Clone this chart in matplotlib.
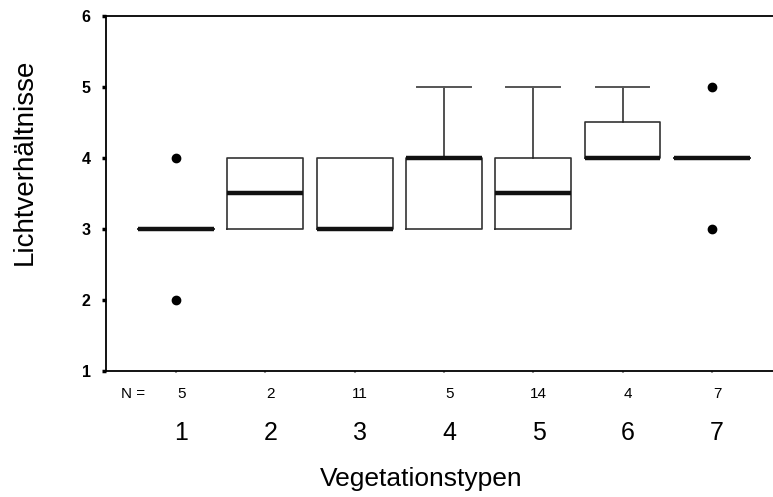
import numpy as np
import matplotlib.pyplot as plt

plt.rcParams['font.family'] = ['Liberation Sans', 'DejaVu Sans']

# Vegetationstypen 1..7
types = ["1", "2", "3", "4", "5", "6", "7"]
n_vals = [5, 2, 11, 5, 14, 4, 7]
q1 = [3, 3, 3, 3, 3, 4, 4]
med = [3, 3.5, 3, 4, 3.5, 4, 4]
q3 = [3, 4, 4, 4, 4, 4.5, 4]
whislo = [3, 3, 3, 3, 3, 4, 4]
whishi = [3, 4, 4, 5, 5, 5, 4]
fliers = [[4, 2], [], [], [], [], [], [5, 3]]

stats = []
for i in range(len(types)):
    stats.append(dict(med=med[i], q1=q1[i], q3=q3[i], whislo=whislo[i],
                      whishi=whishi[i], fliers=fliers[i]))

fig = plt.figure(figsize=(7.73, 4.97), dpi=100)
ax = fig.add_axes([0.137, 0.2535, 0.863, 0.7145])

pos = np.arange(1, len(types) + 1)
ax.bxp(stats, positions=pos, widths=0.85, showcaps=True,
       boxprops=dict(color='#333333', linewidth=1.2),
       medianprops=dict(color='#111111', linewidth=3.2, solid_capstyle='butt'),
       whiskerprops=dict(color='#222222', linewidth=1.1),
       capprops=dict(color='#555555', linewidth=1.4),
       capwidths=0.6,
       flierprops=dict(marker='o', markerfacecolor='black', markeredgecolor='black',
                       markersize=6))

ax.set_xlim(1 - 70 / 89, 7 + 61 / 89)
ax.set_ylim(1, 6)
ax.set_yticks([1, 2, 3, 4, 5, 6])
ax.tick_params(axis='y', direction='out', length=3, width=2.5, pad=8,
               labelsize=11.5)
for lab in ax.get_yticklabels():
    lab.set_fontweight('bold')

ax.set_xticks(pos)
ax.set_xticklabels([])
ax.tick_params(axis='x', direction='out', length=1.5, width=1.5, color='#999999')

for s in ['left', 'top', 'bottom']:
    ax.spines[s].set_linewidth(1.3)
ax.spines['right'].set_visible(False)

tr = ax.get_xaxis_transform()
for p, n, t in zip(pos, n_vals, types):
    ax.text(p + 0.06, -0.076, str(n), transform=tr, ha='center', va='baseline',
            fontsize=11)
    ax.text(p + 0.06, -0.194, t, transform=tr, ha='center', va='baseline',
            fontsize=18)
ax.text(0.52, -0.076, "N =", transform=tr, ha='center', va='baseline', fontsize=11)

ax.set_ylabel("Lichtverhältnisse", fontsize=20)
ax.yaxis.set_label_coords(-0.102, 0.589)
ax.text(0.472, -0.325, "Vegetationstypen", transform=ax.transAxes,
        ha='center', va='baseline', fontsize=19)

fig.savefig("out.png", dpi=100)
